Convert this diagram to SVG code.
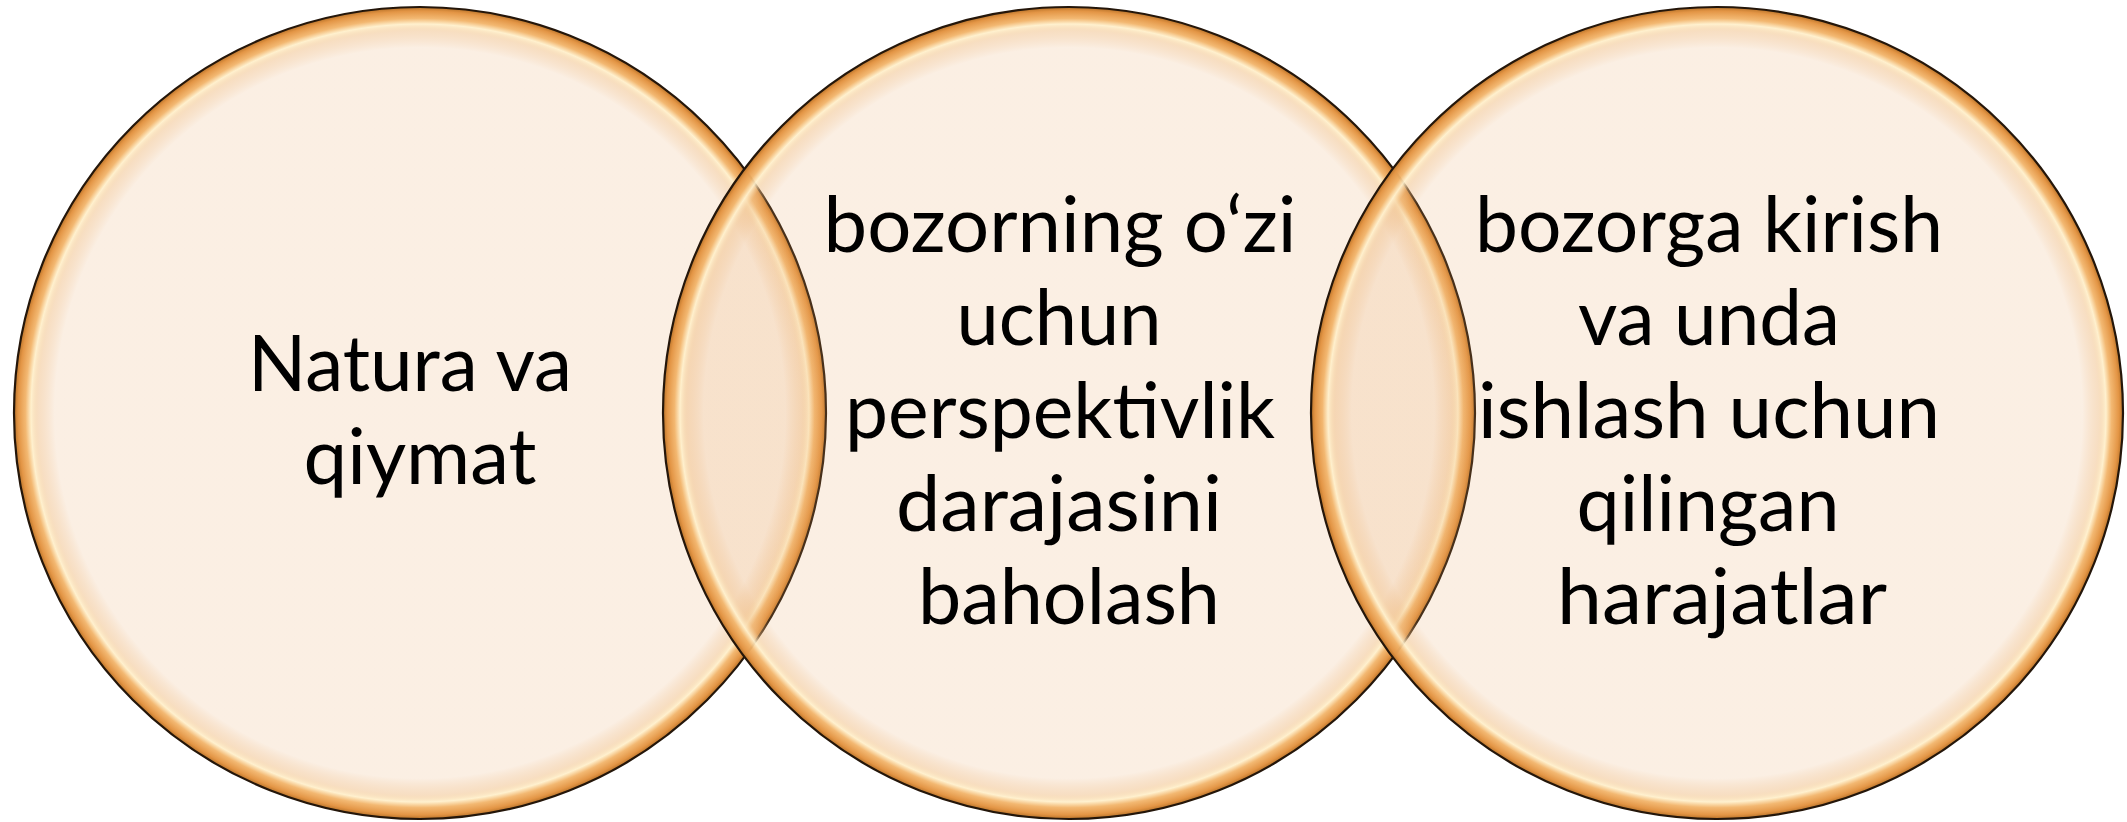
<svg xmlns="http://www.w3.org/2000/svg" width="2127" height="822" viewBox="0 0 2127 822">
  <defs>
    <radialGradient id="ringFill" cx="50%" cy="50%" r="50%">
      <stop offset="0" stop-color="#E8A664" stop-opacity="0.18"/>
      <stop offset="0.9" stop-color="#E8A664" stop-opacity="0.18"/>
      <stop offset="0.94" stop-color="#F0BE86" stop-opacity="0.5"/>
      <stop offset="0.958" stop-color="#FFF0CC" stop-opacity="0.95"/>
      <stop offset="0.972" stop-color="#F2B46A" stop-opacity="0.95"/>
      <stop offset="0.99" stop-color="#E39545" stop-opacity="1"/>
      <stop offset="1" stop-color="#B8732A" stop-opacity="1"/>
    </radialGradient>
  </defs>
  <style>
    .circ { fill: url(#ringFill); stroke: #24160a; stroke-width: 2.2; }
    .lbl { font-family: Lato, "Open Sans", "Liberation Sans", sans-serif; font-size: 78px; fill: #000000; text-anchor: middle; }
  </style>
  <rect width="2127" height="822" fill="#FFFFFF"/>
  <g id="node-1">
    <circle class="circ" cx="420" cy="413" r="406"/>
    <text class="lbl">
      <tspan x="420" y="391" textLength="324" lengthAdjust="spacingAndGlyphs">Natura va</tspan>
      <tspan x="420" y="484" textLength="233" lengthAdjust="spacingAndGlyphs">qiymat</tspan>
    </text>
  </g>
  <g id="node-2">
    <circle class="circ" cx="1069" cy="413" r="406"/>
    <text class="lbl">
      <tspan x="1070" y="252" textLength="473" lengthAdjust="spacingAndGlyphs">bozorning o‘zi</tspan>
      <tspan x="1069" y="345" textLength="205" lengthAdjust="spacingAndGlyphs">uchun</tspan>
      <tspan x="1070" y="438" textLength="430" lengthAdjust="spacingAndGlyphs">perspektivlik</tspan>
      <tspan x="1069" y="531" textLength="326" lengthAdjust="spacingAndGlyphs">darajasini</tspan>
      <tspan x="1069" y="624" textLength="302" lengthAdjust="spacingAndGlyphs">baholash</tspan>
    </text>
  </g>
  <g id="node-3">
    <circle class="circ" cx="1717" cy="413" r="406"/>
    <text class="lbl">
      <tspan x="1719" y="252" textLength="468" lengthAdjust="spacingAndGlyphs">bozorga kirish</tspan>
      <tspan x="1719" y="345" textLength="262" lengthAdjust="spacingAndGlyphs">va unda</tspan>
      <tspan x="1719" y="438" textLength="462" lengthAdjust="spacingAndGlyphs">ishlash uchun</tspan>
      <tspan x="1718" y="531" textLength="263" lengthAdjust="spacingAndGlyphs">qilingan</tspan>
      <tspan x="1722" y="624" textLength="330" lengthAdjust="spacingAndGlyphs">harajatlar</tspan>
    </text>
  </g>
</svg>
